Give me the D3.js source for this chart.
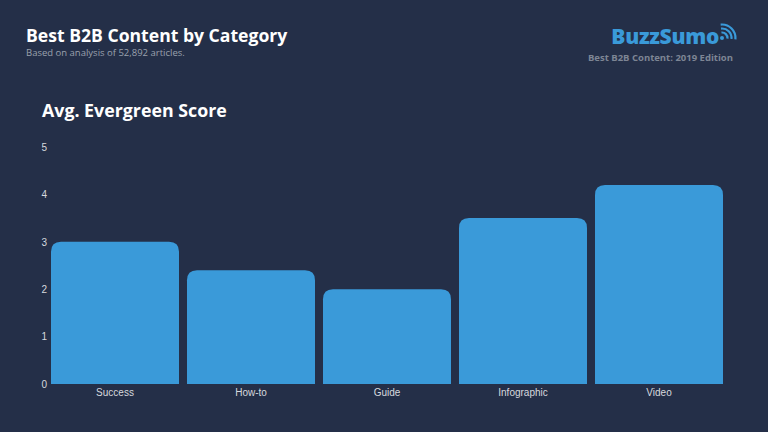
<!DOCTYPE html>
<html><head><meta charset="utf-8">
<script src="https://cdn.jsdelivr.net/npm/d3@7"></script>
<style>html,body{margin:0;padding:0;background:#242f48;}svg{display:block;}</style>
</head><body>
<svg id="c" width="768" height="432"></svg>
<script>
const categories = ["Success", "How-to", "Guide", "Infographic", "Video"];
const scores = [3.0, 2.4, 2.0, 3.5, 4.2];
const yTicks = [0, 1, 2, 3, 4, 5];

const svg = d3.select("#c");
svg.append("rect").attr("width", 768).attr("height", 432).attr("fill", "#242f48");

// Titles
svg.append("text").attr("x", 26).attr("y", 42).attr("fill", "#ffffff")
  .attr("font-family", "Open Sans").attr("font-weight", 700).attr("font-size", 17.6)
  .text("Best B2B Content by Category");
svg.append("text").attr("x", 26).attr("y", 56).attr("fill", "#9aa1ad")
  .attr("font-family", "Open Sans").attr("font-size", 9.5)
  .text("Based on analysis of 52,892 articles.");

// Logo
svg.append("text").attr("x", 719).attr("y", 44).attr("text-anchor", "end").attr("fill", "#3a9ad9")
  .attr("font-family", "Open Sans").attr("font-weight", 800).attr("font-size", 21).attr("letter-spacing", -0.3)
  .text("BuzzSumo");
const ic = svg.append("g").attr("transform", "translate(722,38)").attr("fill", "none").attr("stroke", "#3a9ad9").attr("stroke-width", 2.2);
ic.append("circle").attr("r", 2).attr("fill", "#3a9ad9").attr("stroke", "none");
[5.5, 9.5, 13.5].forEach(r => {
  ic.append("path").attr("d", d3.arc()({innerRadius: r, outerRadius: r, startAngle: -0.1, endAngle: Math.PI / 2 + 0.1}));
});
svg.append("text").attr("x", 733).attr("y", 60.5).attr("text-anchor", "end").attr("fill", "#7d8594")
  .attr("font-family", "Open Sans").attr("font-weight", 700).attr("font-size", 9.5)
  .text("Best B2B Content: 2019 Edition");

svg.append("text").attr("x", 42).attr("y", 117).attr("fill", "#ffffff")
  .attr("font-family", "Open Sans").attr("font-weight", 700).attr("font-size", 17.8)
  .text("Avg. Evergreen Score");

// Scales
const x = d3.scaleBand().domain(categories).range([47, 727]).paddingInner(8 / 136).paddingOuter(4 / 136);
const y = d3.scaleLinear().domain([0, 5]).range([384, 147]);

// Y axis
const yAxis = d3.axisLeft(y).tickValues(yTicks).tickSize(0).tickPadding(0).tickFormat(d3.format("d"));
const ya = svg.append("g").attr("transform", "translate(47,0)").call(yAxis);
ya.select(".domain").remove();
ya.selectAll("text").attr("fill", "#d6d9de").attr("font-family", "Liberation Sans").attr("font-size", 10)
  .attr("text-anchor", "end").attr("x", -0);

// Bars with rounded tops
const r = 10;
svg.append("g").selectAll("path").data(categories).join("path")
  .attr("fill", "#3a9ad9")
  .attr("d", (d, i) => {
    const x0 = x(d), w = x.bandwidth(), y0 = y(scores[i]), yb = y(0);
    return `M${x0},${yb}V${y0 + r}Q${x0},${y0} ${x0 + r},${y0}H${x0 + w - r}Q${x0 + w},${y0} ${x0 + w},${y0 + r}V${yb}Z`;
  });

// X axis
const xAxis = d3.axisBottom(x).tickSize(0).tickPadding(5);
const xa = svg.append("g").attr("transform", "translate(0,384)").call(xAxis);
xa.select(".domain").remove();
xa.selectAll("text").attr("fill", "#d6d9de").attr("font-family", "Liberation Sans").attr("font-size", 10);
</script>
</body></html>
